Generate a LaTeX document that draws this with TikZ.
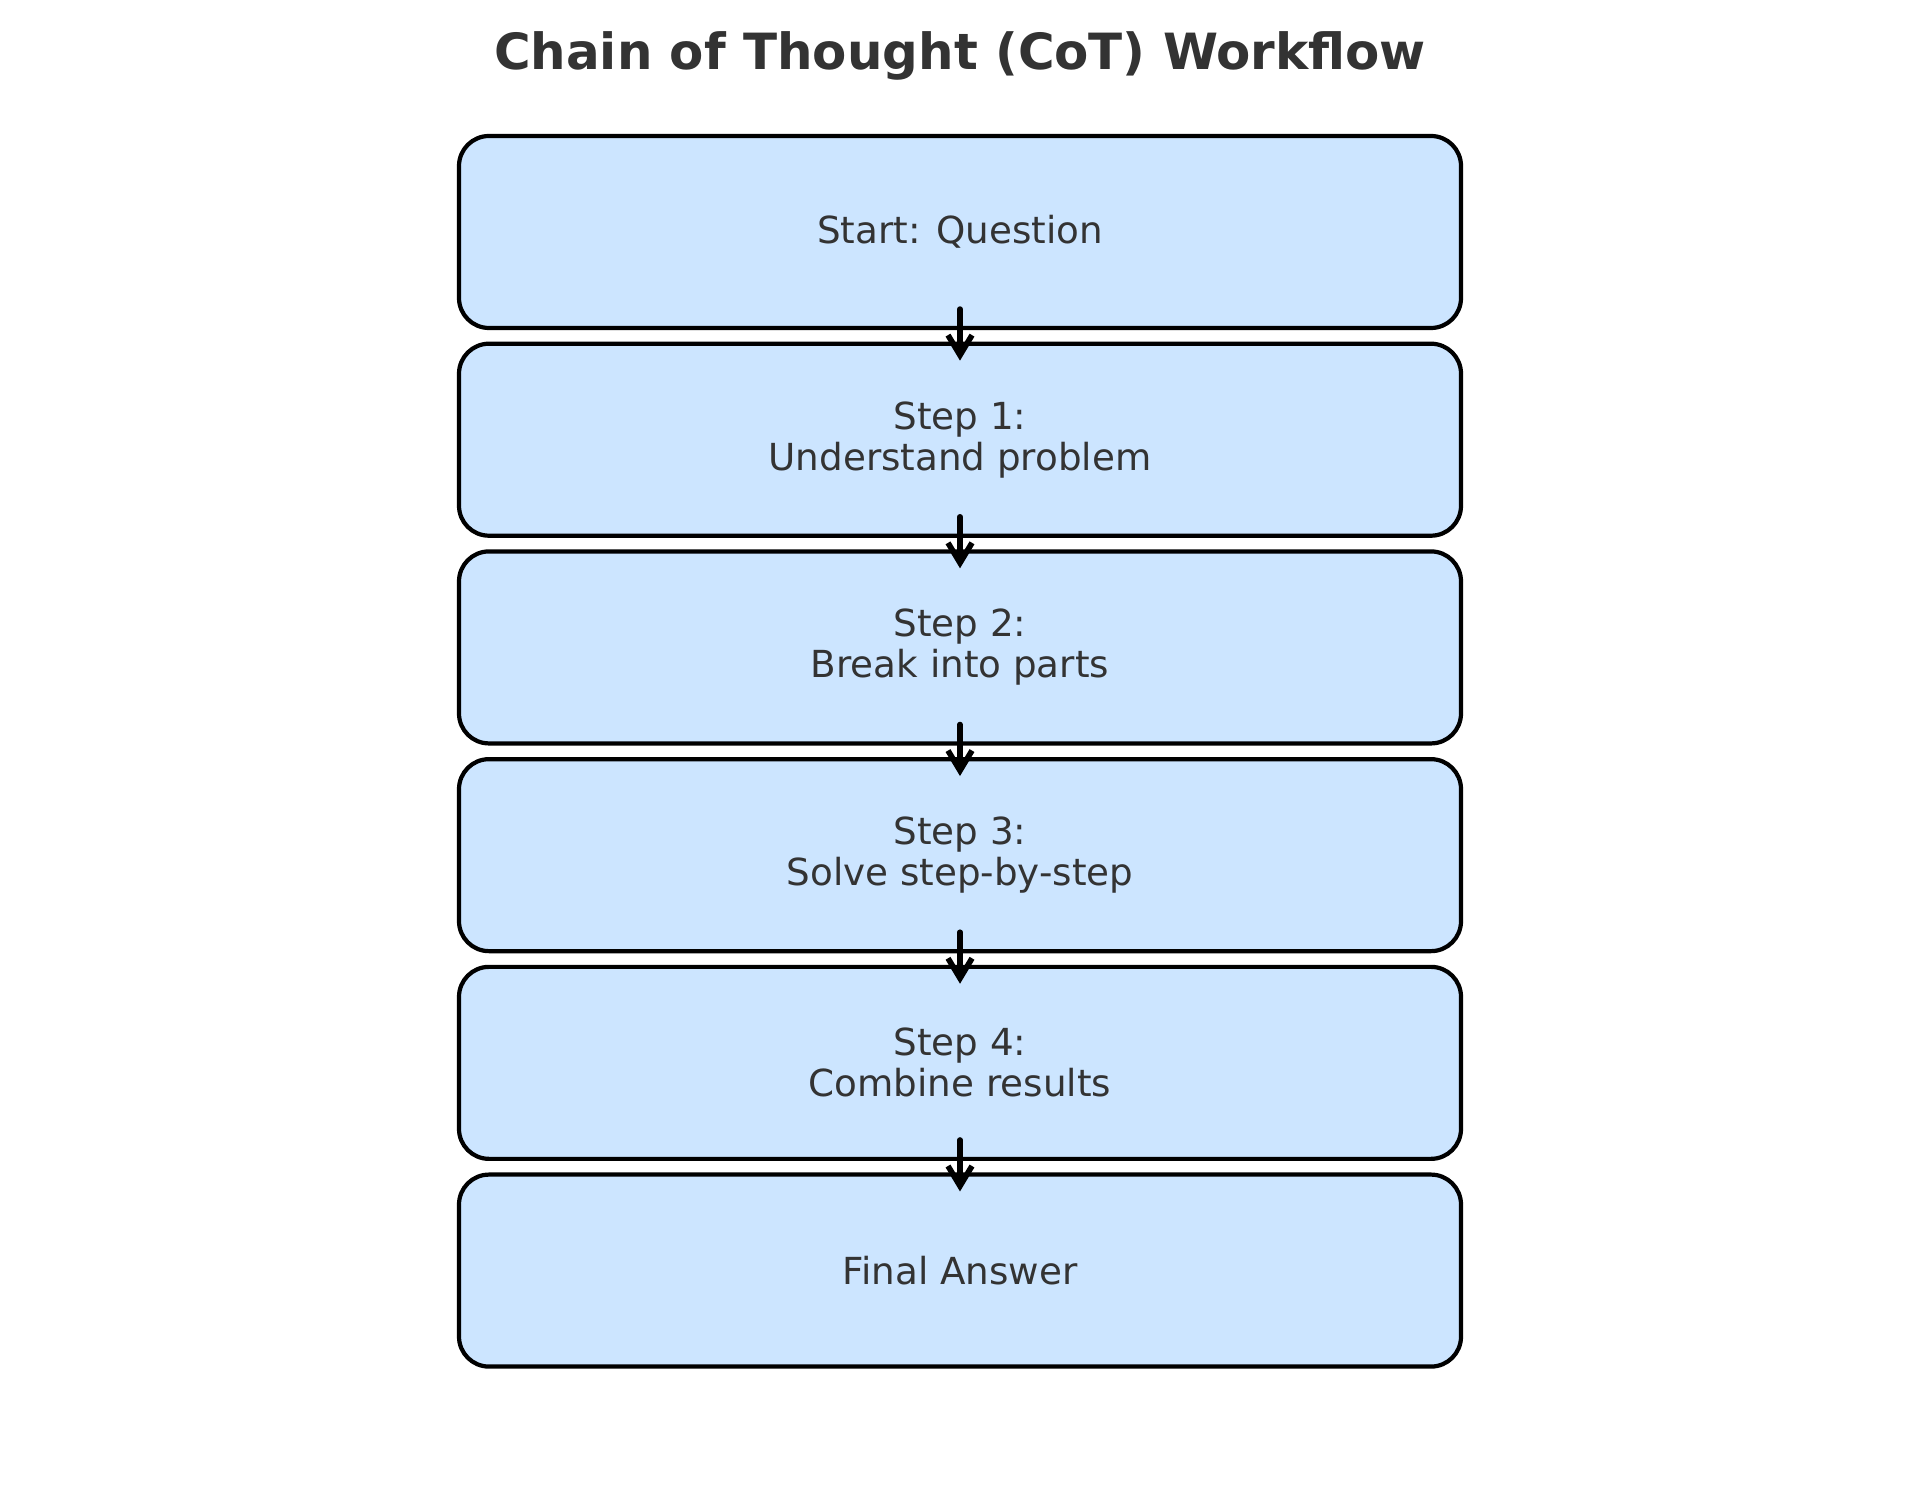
\documentclass[tikz,border=0pt]{standalone}
\usepackage{fontspec}
\setmainfont{DejaVu Sans}
\usetikzlibrary{arrows.meta, positioning}
\definecolor{cajaazul}{HTML}{CCE5FF}
\definecolor{textogris}{HTML}{333333}
\tikzset{
  paso/.style    = {draw=black, line width=1.2pt, fill=cajaazul, rounded corners=0.3cm,
                    minimum width=10.02cm, minimum height=1.92cm, align=center,
                    text=textogris, font=\fontsize{10.6}{11.7}\selectfont},
  flecha/.style  = {-{Straight Barb[length=0.2cm, width=0.24cm, line width=1.6pt]},
                    black, line width=1.6pt, line cap=round},
  titulo/.style  = {text=textogris, font=\fontsize{14.2}{17}\selectfont\bfseries}
}

\begin{document}
\begin{tikzpicture}[node distance=0.115cm]
  \useasboundingbox (0,0) rectangle (19.19,15.09);

  \node[titulo] (titulo) at (9.60,14.53) {Chain of Thought (CoT) Workflow};

  \node[paso] (inicio) at (9.60,12.77) {Start: Question};
  \node[paso, below=of inicio] (paso1) {Step 1:\\Understand problem};
  \node[paso, below=of paso1] (paso2) {Step 2:\\Break into parts};
  \node[paso, below=of paso2] (paso3) {Step 3:\\Solve step-by-step};
  \node[paso, below=of paso3] (paso4) {Step 4:\\Combine results};
  \node[paso, below=of paso4] (final) {Final Answer};

  \foreach \a/\b in {inicio/paso1, paso1/paso2, paso2/paso3, paso3/paso4, paso4/final}{
    \draw[flecha] ([yshift=0.21cm]\a.south) -- ([yshift=-0.19cm]\b.north);
  }
\end{tikzpicture}
\end{document}
